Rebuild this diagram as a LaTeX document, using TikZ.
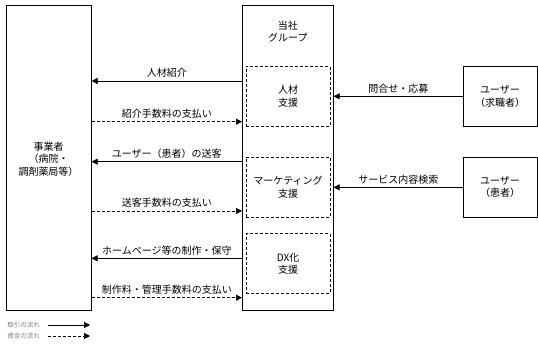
\documentclass[tikz,border=0pt]{standalone}
\usepackage{fontspec}
\setmainfont{Noto Sans CJK JP}
\usetikzlibrary{arrows.meta,positioning}

\begin{document}
\begin{tikzpicture}[x=1pt, y=-1pt, line width=0.6pt, font=\fontsize{10}{12.5}\selectfont,
    party/.style={draw, anchor=north west, inner sep=0pt, align=center},
    unit/.style={draw, dash pattern=on 3pt off 2pt, anchor=north west, inner sep=0pt, align=center, minimum width=83.5pt, minimum height=60pt},
    flow/.style={-{Triangle[length=6pt,width=6pt]}},
    money/.style={flow, dash pattern=on 3pt off 2pt},
    lbl/.style={above, inner sep=3pt},
    legend text/.style={font=\fontsize{6.5}{7}\selectfont, text=gray, anchor=west, inner sep=0pt}]
    \useasboundingbox (0,0) rectangle (538,355);
    % parties
    \node[party, minimum width=85pt, minimum height=305pt] (biz) at (6,5) {};
    \node[align=center] (bizname) at (48.5,159) {事業者\\（病院・\\調剤薬局等）};
    \node[party, minimum width=91pt, minimum height=305pt] (grp) at (242,5) {};
    \node[align=center, below=12pt of grp.north] (grpname) {当社\\グループ};
    \node[unit] (hr) at (246,66) {人材\\支援};
    \node[unit, minimum height=60.5pt] (mkt) at (246,156.7) {マーケティング\\支援};
    \node[unit] (dx) at (246,233.3) {DX化\\支援};
    \node[party, minimum width=73.5pt, minimum height=60pt] (seeker) at (463,66) {ユーザー\\（求職者）};
    \node[party, minimum width=73.5pt, minimum height=60.5pt] (patient) at (463,156.7) {ユーザー\\（患者）};
    % flows between group and business
    \draw[flow] (grp.west |- 0,81) -- node[lbl] {人材紹介} (biz.east |- 0,81);
    \draw[money] (biz.east |- 0,121.7) -- node[lbl] {紹介手数料の支払い} (grp.west |- 0,121.7);
    \draw[flow] (grp.west |- 0,161.7) -- node[lbl] {ユーザー（患者）の送客} (biz.east |- 0,161.7);
    \draw[money] (biz.east |- 0,211) -- node[lbl] {送客手数料の支払い} (grp.west |- 0,211);
    \draw[flow] (grp.west |- 0,258.3) -- node[lbl] {ホームページ等の制作・保守} (biz.east |- 0,258.3);
    \draw[money] (biz.east |- 0,297.7) -- node[lbl] {制作料・管理手数料の支払い} (grp.west |- 0,297.7);
    % flows from users
    \draw[flow] (seeker.west) -- node[lbl] {問合せ・応募} (grp.east |- seeker.west);
    \draw[flow] (patient.west |- 0,187.3) -- node[lbl] {サービス内容検索} (grp.east |- 0,187.3);
    % legend
    \node[legend text] (legdeal) at (7,325) {取引の流れ};
    \coordinate (legdealend) at (90,325);
    \draw[flow] (48,325) -- (legdealend);
    \node[legend text] (legcash) at (7,336) {資金の流れ};
    \coordinate (legcashend) at (90,336);
    \draw[money] (48,336) -- (legcashend);
\end{tikzpicture}
\end{document}
